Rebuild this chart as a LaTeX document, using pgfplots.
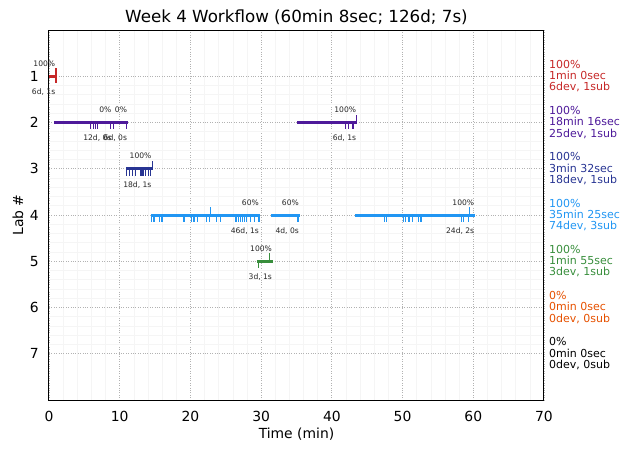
\documentclass[border=0pt]{standalone}
\usepackage{fontspec}
\setmainfont{DejaVu Sans}
\usepackage{pgfplots}
\pgfplotsset{compat=1.18}

\definecolor{labA}{HTML}{C62828}
\definecolor{labB}{HTML}{4E1A9A}
\definecolor{labC}{HTML}{283593}
\definecolor{labD}{HTML}{2196F3}
\definecolor{labE}{HTML}{388E3C}
\definecolor{labF}{HTML}{E65100}
\definecolor{labG}{HTML}{000000}

\tikzset{
  pct/.style={font=\fontsize{7.6}{8}\selectfont, anchor=base east, inner sep=0pt, yshift=10pt, xshift=-1pt, text=black!85},
  dev/.style={font=\fontsize{7.6}{8}\selectfont, anchor=north east, inner sep=0pt, yshift=-12.5pt, xshift=-1pt, text=black!85},
  side/.style={font=\fontsize{11}{11.3}\selectfont, anchor=west, align=left, inner sep=0pt, xshift=5pt},
}
\pgfplotsset{
  seg/.style={line width=3pt, #1},
  down/.style={draw=none, mark=none, forget plot,
    error bars/.cd, y dir=plus, y fixed=0.15, error mark=none,
    error bar style={draw=#1, line width=1.2pt, solid}},
  up/.style={draw=none, mark=none, forget plot,
    error bars/.cd, y dir=minus, y fixed=0.17, error mark=none,
    error bar style={draw=#1, line width=1.2pt, solid}},
}

\begin{document}
\begin{tikzpicture}
\begin{axis}[
  at={(0,0)}, anchor=south west,
  width=495pt, height=370pt, scale only axis,
  clip=false,
  xmin=0, xmax=70, ymin=0, ymax=8,
  y dir=reverse,
  xtick={0,10,...,70}, ytick={1,2,...,7},
  minor x tick num=4, minor y tick num=4,
  major tick length=0pt, minor tick length=0pt,
  grid=both,
  major grid style={dotted, gray!60, line width=0.8pt},
  minor grid style={gray!8, line width=0.6pt},
  axis line style={black, line width=1pt},
  /pgf/number format/assume math mode=true,
  xticklabel style={font=\fontsize{13.9}{15}\selectfont, anchor=north, inner sep=0pt, yshift=-11pt},
  yticklabel style={font=\fontsize{13.9}{15}\selectfont, anchor=east, inner sep=0pt, xshift=-10pt},
  title={Week 4 Workflow (60min 8sec; 126d; 7s)},
  title style={font=\fontsize{16.7}{18}\selectfont, at={(axis description cs:0.5,1.0054)}, anchor=base, inner sep=0pt},
  xlabel={Time (min)},
  xlabel style={font=\fontsize{13.9}{15}\selectfont, at={(axis description cs:0.5,-0.1054)}, anchor=base, inner sep=0pt},
  ylabel={Lab \#},
  ylabel style={font=\fontsize{13.9}{15}\selectfont, at={(axis description cs:-0.0525,0.5)}, anchor=base, rotate=0, inner sep=0pt},
]
% Lab 1
\addplot[seg=labA] coordinates {(0,1) (1.05,1)};
\addplot[down=labA] coordinates {(1.0,1)};
\addplot[up=labA] coordinates {(1.0,1)};
% Lab 2
\addplot[seg=labB] coordinates {(0.7,2) (9.0,2)};
\addplot[seg=labB] coordinates {(9.0,2) (11.2,2)};
\addplot[seg=labB] coordinates {(35.1,2) (43.6,2)};
\addplot[down=labB] coordinates {(5.9,2) (6.25,2) (6.6,2) (6.9,2) (8.75,2) (9.1,2) (11.0,2) (41.9,2) (42.4,2) (43.0,2)};
\addplot[up=labB] coordinates {(43.5,2)};
% Lab 3
\addplot[seg=labC] coordinates {(10.9,3) (14.65,3)};
\addplot[down=labC] coordinates {(11.0,3) (11.4,3) (11.8,3) (12.2,3) (13.0,3) (13.3,3) (13.7,3) (14.1,3) (14.4,3)};
\addplot[up=labC] coordinates {(14.6,3)};
% Lab 4
\addplot[seg=labD] coordinates {(14.4,4) (29.85,4)};
\addplot[seg=labD] coordinates {(31.4,4) (35.5,4)};
\addplot[seg=labD] coordinates {(43.3,4) (60.3,4)};
\addplot[down=labD] coordinates {(14.5,4) (14.85,4) (15.6,4) (15.98,4) (19.1,4) (20.2,4) (20.5,4) (21.0,4) (22.3,4) (22.7,4) (23.7,4) (24.2,4) (26.45,4) (26.8,4) (27.1,4) (27.4,4) (27.7,4) (27.96,4) (28.5,4) (29.1,4) (29.7,4) (35.2,4) (47.4,4) (47.75,4) (50.1,4) (50.4,4) (50.9,4) (51.4,4) (52.3,4) (52.6,4) (58.3,4) (58.6,4) (59.3,4)};
\addplot[up=labD] coordinates {(22.8,4) (59.45,4)};
% Lab 5
\addplot[seg=labE] coordinates {(29.45,5) (31.7,5)};
\addplot[down=labE] coordinates {(29.6,5)};
\addplot[up=labE] coordinates {(31.2,5)};

% session labels
\node[pct] at (axis cs:1.05,1) {100\%};
\node[dev] at (axis cs:1.05,1) {6d, 1s};
\node[pct] at (axis cs:9.0,2) {0\%};
\node[dev] at (axis cs:9.0,2) {12d, 0s};
\node[pct] at (axis cs:11.2,2) {0\%};
\node[dev] at (axis cs:11.2,2) {6d, 0s};
\node[pct] at (axis cs:43.6,2) {100\%};
\node[dev] at (axis cs:43.6,2) {6d, 1s};
\node[pct] at (axis cs:14.65,3) {100\%};
\node[dev] at (axis cs:14.65,3) {18d, 1s};
\node[pct] at (axis cs:29.85,4) {60\%};
\node[dev] at (axis cs:29.85,4) {46d, 1s};
\node[pct] at (axis cs:35.5,4) {60\%};
\node[dev] at (axis cs:35.5,4) {4d, 0s};
\node[pct] at (axis cs:60.3,4) {100\%};
\node[dev] at (axis cs:60.3,4) {24d, 2s};
\node[pct] at (axis cs:31.7,5) {100\%};
\node[dev] at (axis cs:31.7,5) {3d, 1s};

% per-lab summary
\node[side, text=labA] at (axis cs:70,1) {100\%\\1min 0sec\\6dev, 1sub};
\node[side, text=labB] at (axis cs:70,2) {100\%\\18min 16sec\\25dev, 1sub};
\node[side, text=labC] at (axis cs:70,3) {100\%\\3min 32sec\\18dev, 1sub};
\node[side, text=labD] at (axis cs:70,4) {100\%\\35min 25sec\\74dev, 3sub};
\node[side, text=labE] at (axis cs:70,5) {100\%\\1min 55sec\\3dev, 1sub};
\node[side, text=labF] at (axis cs:70,6) {0\%\\0min 0sec\\0dev, 0sub};
\node[side, text=labG] at (axis cs:70,7) {0\%\\0min 0sec\\0dev, 0sub};
\end{axis}
\pgfresetboundingbox
\path[use as bounding box] (-49pt,-53pt) rectangle (581pt,400pt);
\end{tikzpicture}
\end{document}
